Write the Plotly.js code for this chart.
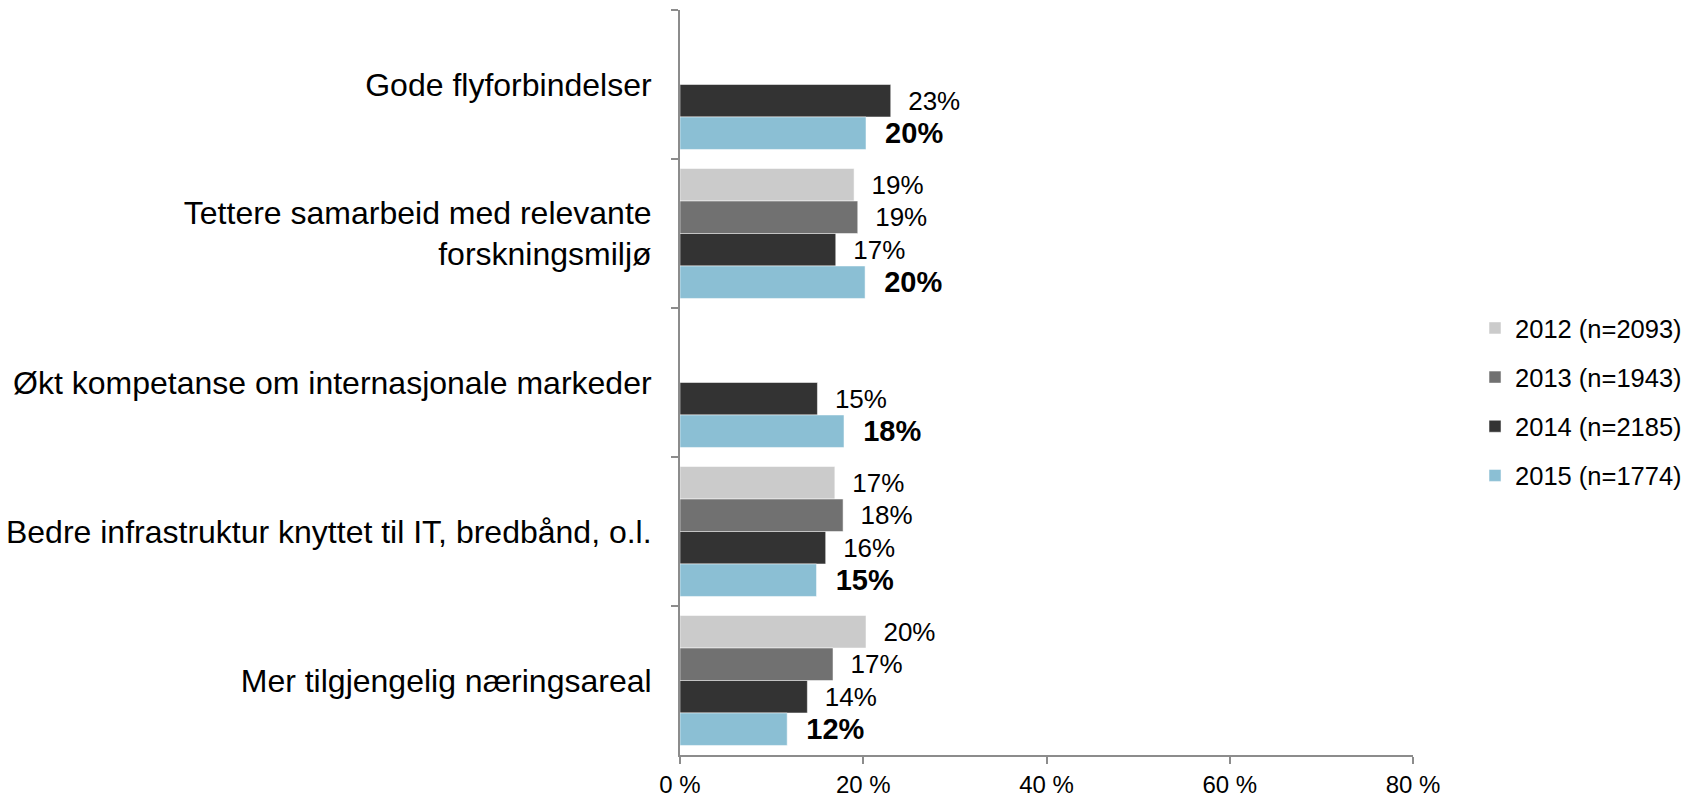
<!DOCTYPE html>
<html>
<head>
<meta charset="utf-8">
<script src="https://cdn.plot.ly/plotly-3.0.1.min.js"></script>
<style>
  html, body { margin: 0; padding: 0; background: #fff; }
  #chart { width: 1698px; height: 798px; }
</style>
</head>
<body>
<div id="chart"></div>
<script>
// categories, top to bottom
const categories = [
  "Gode flyforbindelser",
  "Tettere samarbeid med relevante<br>forskningsmiljø",
  "Økt kompetanse om internasjonale markeder",
  "Bedre infrastruktur knyttet til IT, bredbånd, o.l.",
  "Mer tilgjengelig næringsareal"
];

// share of respondents (%)
const v2012 = [null, 19.0, null, 16.9, 20.3];
const v2013 = [null, 19.4, null, 17.8, 16.7];
const v2014 = [23.0, 17.0, 15.0, 15.9, 13.9];
const v2015 = [20.3, 20.2, 17.9, 14.9, 11.7];

const seriesNames = ["2012 (n=2093)", "2013 (n=1943)", "2014 (n=2185)", "2015 (n=1774)"];
const seriesColors = ["#cbcbcb", "#717171", "#333333", "#8bbfd4"];

const font = "Liberation Sans, Arial, sans-serif";

function label(v) {
  return v.map(x => x == null ? "" : "\u00a0\u00a0" + Math.round(x) + "%");
}

const allValues = [v2012, v2013, v2014, v2015];

const data = allValues.map((vals, i) => ({
  type: "bar",
  orientation: "h",
  name: seriesNames[i],
  legendgroup: "g" + i,
  y: categories,
  x: vals,
  text: label(vals),
  textposition: "outside",
  constraintext: "none",
  cliponaxis: false,
  textfont: {
    family: font,
    size: i === 3 ? 29 : 26,
    color: "#000",
    weight: i === 3 ? "bold" : "normal"
  },
  marker: { color: seriesColors[i], line: { color: "rgba(255,255,255,0.5)", width: 1 } },
  hoverinfo: "x+name"
}));

const layout = {
  width: 1698,
  height: 798,
  margin: { l: 680, r: 285, t: 10, b: 43 },
  paper_bgcolor: "#fff",
  plot_bgcolor: "#fff",
  barmode: "group",
  bargap: 0.128,
  bargroupgap: 0,
  font: { family: font, color: "#000" },
  showlegend: true,
  legend: {
    x: 1.0846,
    xanchor: "left",
    y: 0.474,
    yanchor: "middle",
    traceorder: "grouped",
    tracegroupgap: 13,
    font: { family: font, size: 25.5, color: "#000" },
    bgcolor: "rgba(0,0,0,0)"
  },
  xaxis: {
    range: [0, 80],
    dtick: 20,
    tick0: 0,
    ticksuffix: " %",
    showgrid: false,
    zeroline: false,
    showline: true,
    linecolor: "#8c8c8c",
    linewidth: 2,
    ticks: "outside",
    ticklen: 7,
    tickcolor: "#8c8c8c",
    tickwidth: 2,
    ticklabelstandoff: 0,
    tickfont: { family: font, size: 24, color: "#000" },
    fixedrange: true
  },
  yaxis: {
    type: "category",
    autorange: "reversed",
    showgrid: false,
    zeroline: false,
    showline: true,
    linecolor: "#8c8c8c",
    linewidth: 2,
    ticks: "outside",
    tickson: "boundaries",
    ticklen: 7,
    tickcolor: "#8c8c8c",
    tickwidth: 2,
    ticklabelstandoff: 20,
    tickfont: { family: font, size: 32, color: "#000" },
    fixedrange: true
  }
};

Plotly.newPlot("chart", data, layout, { displayModeBar: false, staticPlot: true });
</script>
</body>
</html>
